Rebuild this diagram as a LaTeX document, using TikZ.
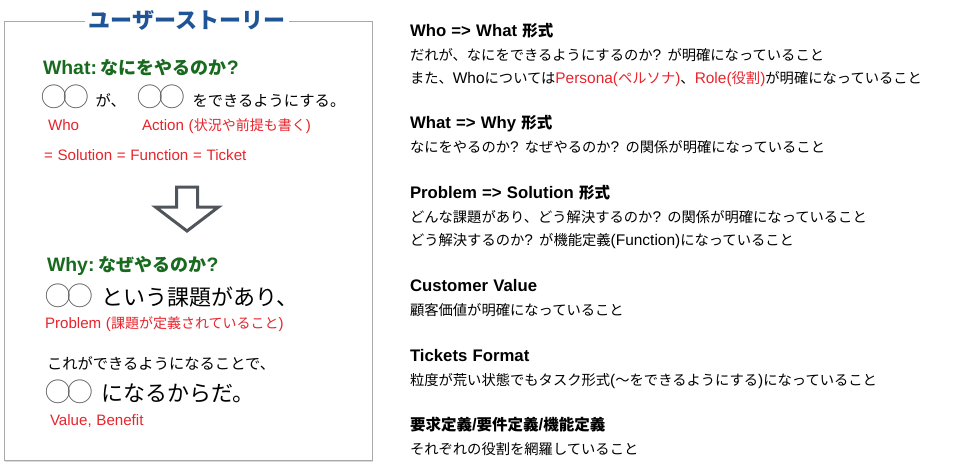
\documentclass[tikz,border=0pt]{standalone}
\usepackage{fontspec}
\setmainfont{Noto Sans CJK JP}
\newfontfamily\latfont{Liberation Sans}[Scale=1.08, WordSpace=1.12]
\usetikzlibrary{positioning,shadows}
\definecolor{storyblue}{HTML}{1F5596}
\definecolor{headgreen}{HTML}{186A1E}
\definecolor{notered}{HTML}{E8242C}
\definecolor{arrowgray}{HTML}{50555C}
\definecolor{framegray}{HTML}{A9A9A9}
\definecolor{marugray}{HTML}{555555}
\newcommand{\maru}{{\fontsize{25.5}{25.5}\selectfont\color{marugray}◯\kern-3.5pt◯}}
\newcommand{\la}[1]{{\latfont #1}}
\tikzset{
  every node/.style={inner sep=0pt, outer sep=0pt, anchor=base west, text=black, font=\fontsize{14.3}{14.3}\selectfont},
  every path/.style={line join=miter},
  head/.style={font=\fontsize{15.5}{15.5}\selectfont\bfseries},
  qhead/.style={text=headgreen, font=\fontsize{18}{18}\selectfont\bfseries},
  note/.style={text=notered, font=\fontsize{14}{14}\selectfont},
  mid/.style={font=\fontsize{15.3}{15.3}\selectfont},
  big/.style={font=\fontsize{22}{22}\selectfont}
}

\begin{document}
\begin{tikzpicture}[x=1pt, y=-1pt]
  \useasboundingbox (0,0) rectangle (963,475);

  % Frame and title
  \draw[framegray, line width=1pt, fill=white, drop shadow={opacity=0.3, shadow xshift=1pt, shadow yshift=-1.5pt}] (4,21) rectangle (372,460);
  \node (title) [anchor=center, fill=white, inner xsep=4pt, text=storyblue, font=\fontsize{22}{22}\selectfont\bfseries] at (187,20) {ユーザーストーリー};

  % What
  \node (what) [qhead] at (43,74) {\la{What:}\hspace{4pt}なにをやるのか\la{?}};
  \node (whoc) at (41,106.5) {\maru};
  \node (ga) [mid, right=7pt of whoc.base east, anchor=base west] {が、};
  \node (actc) at (137,106.5) {\maru};
  \node (dekiru) [mid, right=8pt of actc.base east, anchor=base west] {をできるようにする。};
  \node (who) [note] at (48,130) {\la{Who}};
  \node (action) [note] at (142,130) {\la{Action (}状況や前提も書く\la{)}};
  \node (solution) [note] at (44,160) {\la{= Solution = Function = Ticket}};

  % Arrow
  \draw[arrowgray, line width=3pt] (176.5,187) -- (197.5,187) -- (197.5,207) -- (218.5,207) -- (187,231)
    -- (155.5,207) -- (176.5,207) -- cycle;

  % Why
  \node (why) [qhead] at (47,271) {\la{Why:}\hspace{4pt}なぜやるのか\la{?}};
  \node (problemline) [big] at (45,305) {\maru\hspace{9pt}という課題があり、};
  \node (problem) [note] at (45,328) {\la{Problem (}課題が定義されていること\la{)}};
  \node (kore) [mid] at (47,369) {これができるようになることで、};
  \node (valueline) [big] at (45,401) {\maru\hspace{9pt}になるからだ。};
  \node (value) [note] at (50,425) {\la{Value, Benefit}};

  % Right column
  \node (whowhat) [head] at (410,36) {\la{Who => What }形式};
  \node (whowhat1) [below=24pt of whowhat.base west, anchor=base west] {だれが、なにをできるようにするのか\la{? }が明確になっていること};
  \node (whowhat2) [below=23.5pt of whowhat1.base west, anchor=base west] {また、\la{Who}については\textcolor{notered}{\la{Persona(}ペルソナ\la{)}}、\textcolor{notered}{\la{Role(}役割\la{)}}が明確になっていること};

  \node (whatwhy) [head] at (410,128) {\la{What => Why }形式};
  \node (whatwhy1) [below=24.5pt of whatwhy.base west, anchor=base west] {なにをやるのか\la{? }なぜやるのか\la{? }の関係が明確になっていること};

  \node (probsol) [head] at (410,198) {\la{Problem => Solution }形式};
  \node (probsol1) [below=24pt of probsol.base west, anchor=base west] {どんな課題があり、どう解決するのか\la{? }の関係が明確になっていること};
  \node (probsol2) [below=23.5pt of probsol1.base west, anchor=base west] {どう解決するのか\la{? }が機能定義\la{(Function)}になっていること};

  \node (custval) [head] at (410,291) {\la{Customer Value}};
  \node (custval1) [below=24pt of custval.base west, anchor=base west] {顧客価値が明確になっていること};

  \node (tickets) [head] at (410,361) {\la{Tickets Format}};
  \node (tickets1) [below=24pt of tickets.base west, anchor=base west] {粒度が荒い状態でもタスク形式\la{(}〜をできるようにする\la{)}になっていること};

  \node (teigi) [head] at (410,430) {要求定義\la{/}要件定義\la{/}機能定義};
  \node (teigi1) [below=24pt of teigi.base west, anchor=base west] {それぞれの役割を網羅していること};
\end{tikzpicture}
\end{document}
